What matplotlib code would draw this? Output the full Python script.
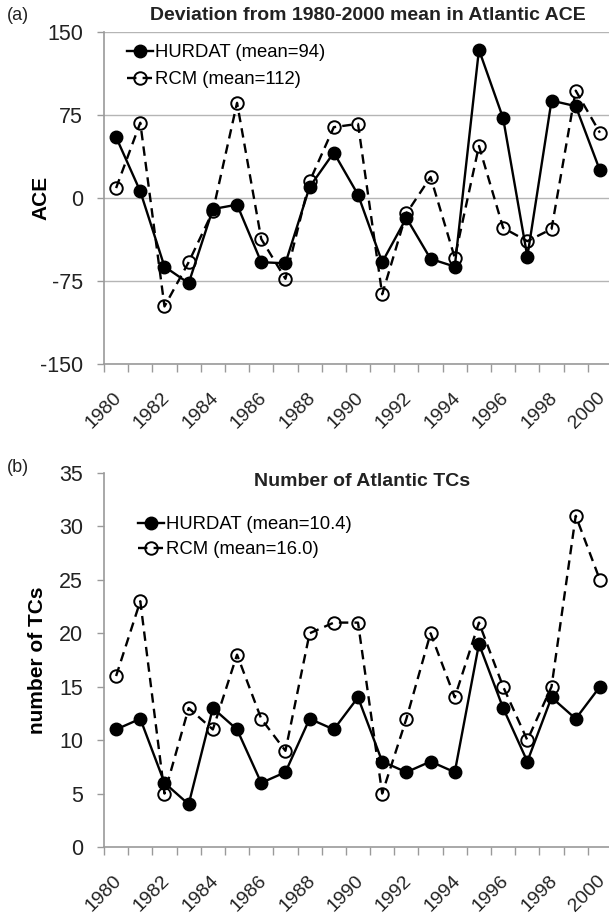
import matplotlib
matplotlib.use("Agg")
import matplotlib.pyplot as plt
import matplotlib.transforms as mtransforms
import numpy as np

plt.rcParams["font.family"] = ["Liberation Sans", "DejaVu Sans"]

years = list(range(1980, 2001))

# (a) deviation from 1980-2000 mean in ACE
ace_hurdat = [55, 6, -62, -77, -10, -6, -58, -59, 10, 41, 3, -58, -18, -55, -62,
              134, 72, -53, 88, 83, 25]
ace_rcm = [9, 68, -98, -58, -12, 86, -37, -73, 15, 64, 67, -87, -14, 19, -54,
           47, -27, -39, -28, 97, 59]

# (b) number of TCs
tc_hurdat = [11, 12, 6, 4, 13, 11, 6, 7, 12, 11, 14, 8, 7, 8, 7, 19, 13, 8, 14, 12, 15]
tc_rcm = [16, 23, 5, 13, 11, 18, 12, 9, 20, 21, 21, 5, 12, 20, 14, 21, 15, 10, 15, 31, 25]

W, H = 609, 915
fig = plt.figure(figsize=(W / 100, H / 100), dpi=100)

AX_COLOR = "#9a9a9a"
TXT = "#222222"


def px_axes(left, top, right, bottom):
    return fig.add_axes([left / W, 1 - bottom / H, (right - left) / W, (bottom - top) / H])


def style_axes(ax, ylim, yticks, grid):
    x = np.arange(len(years))
    ax.set_xlim(-0.5, len(years) - 0.5)
    ax.set_ylim(*ylim)
    ax.set_yticks(yticks)
    ax.set_yticklabels([str(t) for t in yticks], fontsize=15.5, color=TXT)
    ax.set_xticks(x[::2])
    ax.set_xticklabels([str(y) for y in years[::2]], rotation=45, ha="right",
                       va="top", rotation_mode="anchor", fontsize=14, color=TXT)
    ax.set_xticks(np.arange(-0.5, len(years)), minor=True)
    ax.tick_params(axis="x", which="major", length=0, pad=18)
    ax.tick_params(axis="x", which="minor", length=6, width=1, color=AX_COLOR)
    ax.tick_params(axis="y", length=5, width=1, color=AX_COLOR, pad=10)
    off = mtransforms.ScaledTranslation(-3 / 100, 0, fig.dpi_scale_trans)
    for lbl in ax.get_xticklabels():
        lbl.set_transform(lbl.get_transform() + off)
    for s in ("top", "right"):
        ax.spines[s].set_visible(False)
    for s in ("left", "bottom"):
        ax.spines[s].set_color(AX_COLOR)
        ax.spines[s].set_linewidth(1.2)
    if grid:
        ax.yaxis.grid(True, color="#b5b5b5", linewidth=1)
        ax.set_axisbelow(True)


def draw_series(ax, a, b, la, lb):
    x = np.arange(len(years))
    ax.plot(x, b, linestyle=(0, (4, 2.6)), color="black", linewidth=1.7,
            marker="o", markersize=9, markerfacecolor="none",
            markeredgewidth=1.4, markeredgecolor="black", label=lb, zorder=3)
    ax.plot(x, a, linestyle="-", color="black", linewidth=1.7,
            marker="o", markersize=9, markerfacecolor="black",
            markeredgecolor="black", label=la, zorder=4)
    h, l = ax.get_legend_handles_labels()
    return h[::-1], l[::-1]


# panel (a)
ax1 = px_axes(104, 32, 612, 364)
style_axes(ax1, (-150, 150), [-150, -75, 0, 75, 150], grid=True)
h, l = draw_series(ax1, ace_hurdat, ace_rcm, "HURDAT (mean=94)", "RCM (mean=112)")
ax1.legend(h, l, loc="upper left", bbox_to_anchor=((127 - 104) / 508, 1 - (44 - 32) / 332),
           frameon=False, fontsize=13.3, handlelength=1.4, handletextpad=0.1,
           labelspacing=0.55, borderaxespad=0, borderpad=0)
ax1.set_ylabel("ACE", fontsize=15, fontweight="bold")
ax1.yaxis.set_label_coords(-(104 - 50) / 508, 0.5)
fig.text(368 / W, 1 - 16 / H, "Deviation from 1980-2000 mean in Atlantic ACE",
         ha="center", va="center", fontsize=14, fontweight="bold", color=TXT)
fig.text(7 / W, 1 - 16 / H, "(a)", ha="left", va="center", fontsize=13, color=TXT)

# panel (b)
ax2 = px_axes(104, 473, 612, 847)
style_axes(ax2, (0, 35), list(range(0, 36, 5)), grid=False)
h, l = draw_series(ax2, tc_hurdat, tc_rcm, "HURDAT (mean=10.4)", "RCM (mean=16.0)")
ax2.legend(h, l, loc="upper left", bbox_to_anchor=((138 - 104) / 508, 1 - (516 - 473) / 374),
           frameon=False, fontsize=13.3, handlelength=1.4, handletextpad=0.1,
           labelspacing=0.45, borderaxespad=0, borderpad=0)
ax2.set_ylabel("number of TCs", fontsize=15, fontweight="bold")
ax2.yaxis.set_label_coords(-(104 - 47) / 508, 0.5)
fig.text(362 / W, 1 - 482 / H, "Number of Atlantic TCs",
         ha="center", va="center", fontsize=14, fontweight="bold", color=TXT)
fig.text(7 / W, 1 - 468 / H, "(b)", ha="left", va="center", fontsize=13, color=TXT)

fig.savefig("out.png", dpi=100)
